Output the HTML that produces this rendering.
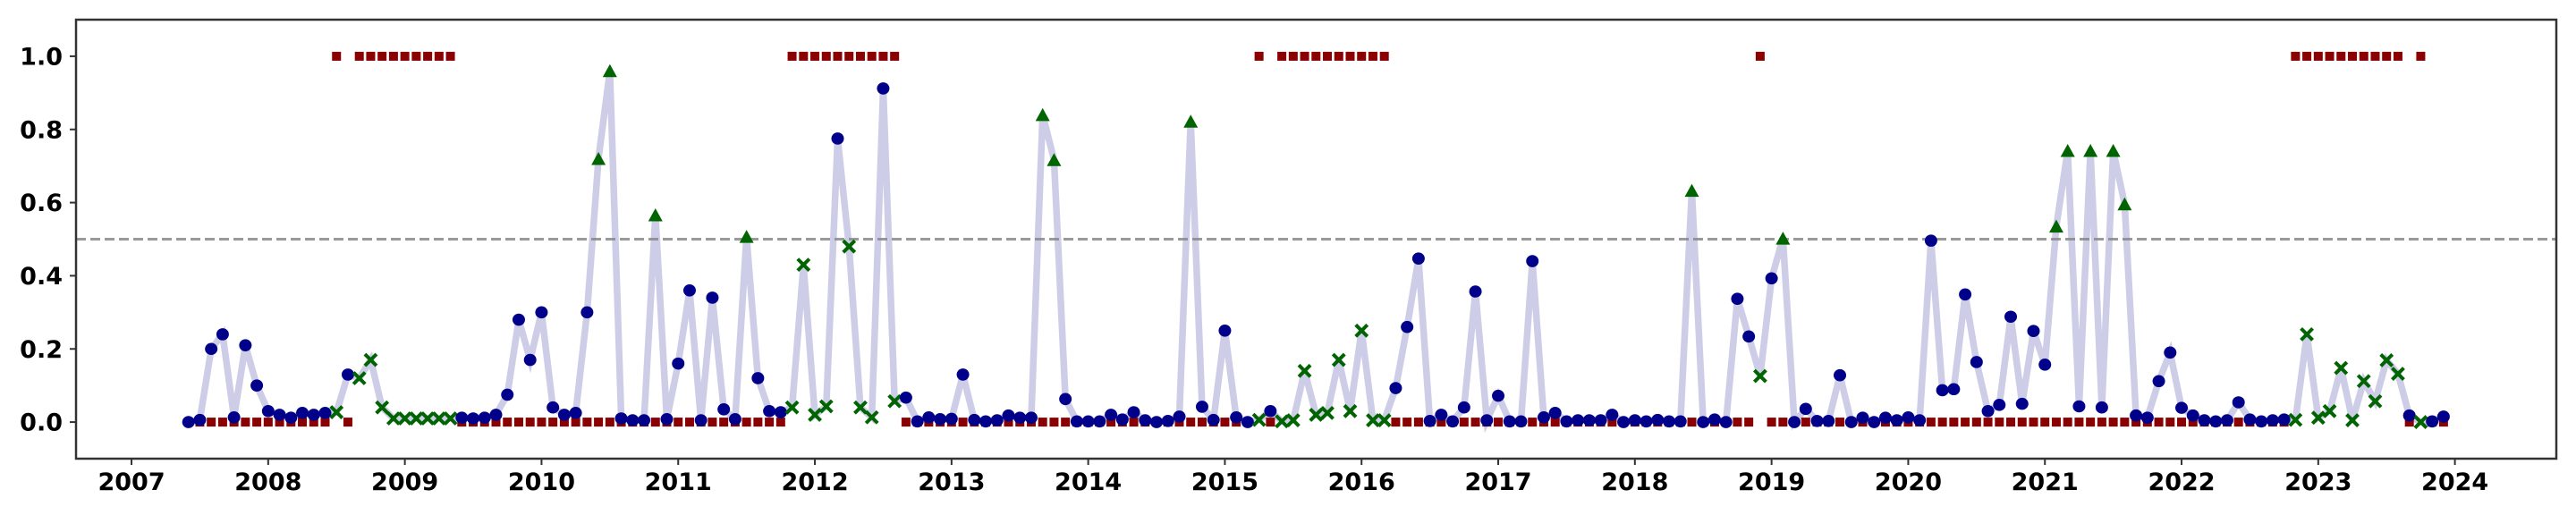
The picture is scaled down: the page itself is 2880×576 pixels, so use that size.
<!DOCTYPE html>
<html><head><meta charset="utf-8"><style>
html,body{margin:0;padding:0;background:#fff;}
svg{display:block;}
text{font-family:"DejaVu Sans","Liberation Sans",sans-serif;font-weight:bold;fill:#000;}
</style></head><body>
<svg id="chart" width="2880" height="576" viewBox="0 0 2880 576" xmlns="http://www.w3.org/2000/svg"></svg>
<script>
const startYear = 2007, startMonth = 5; // June 2007
const values = [
0.0,0.006,0.20,0.24,0.013,0.21,0.10,0.03,0.02,0.012,0.025,0.02,0.025,0.027,0.13,0.12,0.17,0.04,0.01,0.01,
0.01,0.01,0.01,0.01,0.012,0.01,0.012,0.02,0.075,0.28,0.17,0.30,0.04,0.02,0.025,0.30,0.72,0.96,0.01,0.005,
0.005,0.566,0.008,0.16,0.36,0.005,0.34,0.035,0.008,0.507,0.12,0.03,0.027,0.04,0.43,0.02,0.043,0.775,0.48,0.04,
0.013,0.912,0.057,0.067,0.002,0.013,0.008,0.009,0.13,0.006,0.002,0.005,0.018,0.012,0.012,0.84,0.717,0.063,0.002,0.002,
0.002,0.02,0.007,0.027,0.005,0.0,0.003,0.015,0.822,0.042,0.006,0.25,0.013,0.0,0.006,0.03,0.002,0.005,0.14,0.02,
0.025,0.17,0.03,0.25,0.005,0.005,0.093,0.26,0.447,0.003,0.02,0.002,0.04,0.357,0.005,0.072,0.002,0.002,0.44,0.013,
0.025,0.002,0.005,0.005,0.005,0.02,0.0,0.005,0.002,0.006,0.002,0.002,0.633,0.0,0.007,0.0,0.337,0.234,0.126,0.393,
0.502,0.0,0.036,0.003,0.003,0.128,0.0,0.012,0.0,0.012,0.005,0.013,0.005,0.496,0.087,0.09,0.349,0.164,0.03,0.047,
0.288,0.05,0.249,0.157,0.535,0.742,0.043,0.742,0.04,0.742,0.596,0.018,0.012,0.112,0.19,0.039,0.018,0.005,0.002,0.005,
0.054,0.007,0.002,0.005,0.007,0.006,0.24,0.012,0.03,0.148,0.005,0.112,0.057,0.169,0.132,0.018,0.0,0.002,0.015
];
const labelOnes = [13,15,16,17,18,19,20,21,22,23,53,54,55,56,57,58,59,60,61,62,94,96,97,98,99,100,101,102,103,104,105,138,185,186,187,188,189,190,191,192,193,194,196];
const unlabeled = [0];
const yTicks = [0.0,0.2,0.4,0.6,0.8,1.0];
const yTickLabels = ["0.0","0.2","0.4","0.6","0.8","1.0"];
const xTickYears = [2007,2008,2009,2010,2011,2012,2013,2014,2015,2016,2017,2018,2019,2020,2021,2022,2023,2024];
const threshold = 0.5;

const L=85,R=2858,T=22,B=513;
const xMin=2006.594,xMax=2024.742,yMin=-0.1,yMax=1.1;
function xs(t){return L+(t-xMin)/(xMax-xMin)*(R-L);}
function ys(v){return B-(v-yMin)/(yMax-yMin)*(B-T);}
const NS="http://www.w3.org/2000/svg";
const svg=document.getElementById('chart');
function mk(tag,attrs,parent){const e=document.createElementNS(NS,tag);for(const k in attrs)e.setAttribute(k,attrs[k]);(parent||svg).appendChild(e);return e;}
function tOf(i){return startYear+(startMonth+i)/12;}
function labelOf(i){if(unlabeled.includes(i))return null;return labelOnes.includes(i)?1:0;}

const bg=mk('rect',{x:L,y:T,width:R-L,height:B-T,fill:'#fff'});



let d='';values.forEach((v,i)=>{d+=(i?'L':'M')+xs(tOf(i)).toFixed(2)+','+ys(v).toFixed(2);});
const line=mk('path',{d:d,fill:'none',stroke:'#cdcde8','stroke-width':7.5,'stroke-linejoin':'miter'});



const th=mk('line',{x1:L,x2:R,y1:ys(threshold),y2:ys(threshold),stroke:'#888','stroke-opacity':0.85,'stroke-width':3,'stroke-dasharray':'11 5'});



values.forEach((v,i)=>{const lb=labelOf(i);if(lb===null)return;
 const s=mk('rect',{x:xs(tOf(i))-5,y:ys(lb)-5,width:10,height:10,fill:'#8b0000'});
 
 
});

values.forEach((v,i)=>{const lb=labelOf(i);const x=xs(tOf(i)),y=ys(v);
 const pred=v>=threshold?1:0;
 if(lb===null||lb===pred){
  const c=mk('ellipse',{cx:x,cy:y,rx:7,ry:6.8,fill:'#00008b'});
  
  
 } else if(pred===1){
  const p=mk('path',{d:`M${x-8},${y+7}L${x},${y-7.5}L${x+8},${y+7}Z`,fill:'#006400'});
  
  
 } else {
  const p=mk('path',{d:`M${x-6.5},${y-6.5}L${x+6.5},${y+6.5}M${x-6.5},${y+6.5}L${x+6.5},${y-6.5}`,stroke:'#006400','stroke-width':4,fill:'none'});
  
  
 }
});

const fr=mk('rect',{x:L,y:T,width:R-L,height:B-T,fill:'none',stroke:'#333','stroke-width':2.5});



yTicks.forEach((v,k)=>{const y=ys(v);
 const tk=mk('line',{x1:L-7,x2:L,y1:y,y2:y,stroke:'#333','stroke-width':2});
 
 
 const tx=mk('text',{x:L-15,y:y+9.5,'text-anchor':'end','font-size':27});
 tx.textContent=yTickLabels[k];
 
 
});
xTickYears.forEach(yr=>{const x=xs(yr);
 const tk=mk('line',{x1:x,x2:x,y1:B,y2:B+7,stroke:'#333','stroke-width':2});
 
 
 const tx=mk('text',{x:x,y:548,'text-anchor':'middle','font-size':27});
 tx.textContent=String(yr);
 
 
});
</script>
</body></html>
